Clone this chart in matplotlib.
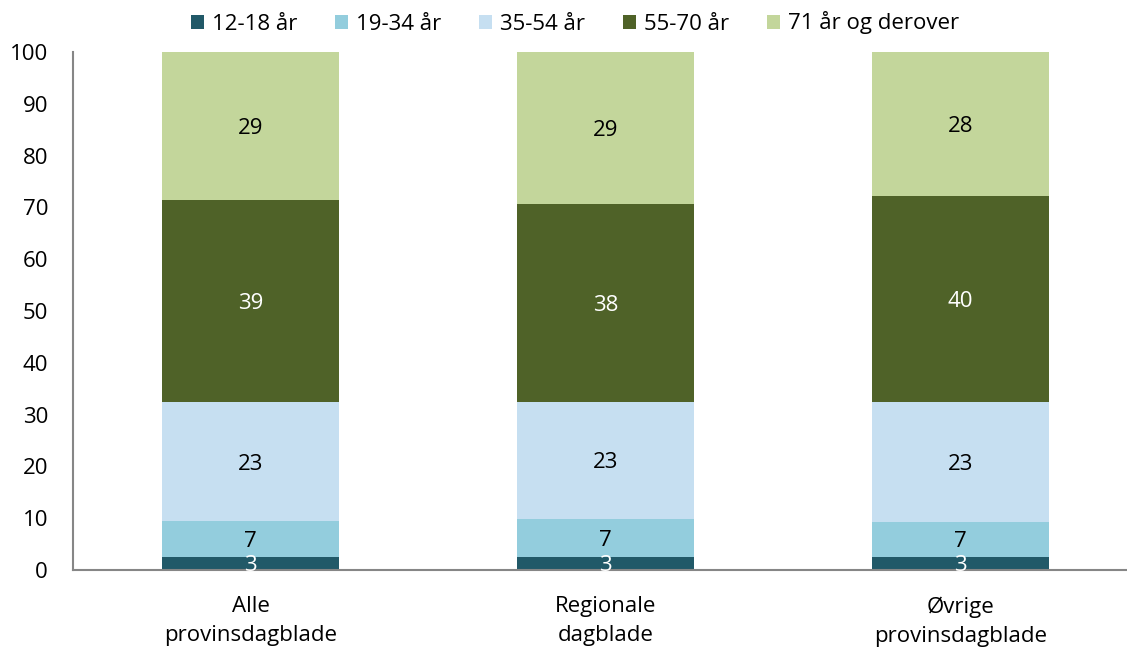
import matplotlib
matplotlib.use("Agg")
import matplotlib.pyplot as plt
import numpy as np

categories = ["Alle\nprovinsdagblade", "Regionale\ndagblade", "Øvrige\nprovinsdagblade"]
series_names = ["12-18 år", "19-34 år", "35-54 år", "55-70 år", "71 år og derover"]
v_12_18 = [2.6, 2.6, 2.6]
v_19_34 = [6.8, 7.3, 6.6]
v_35_54 = [23.0, 22.6, 23.3]
v_55_70 = [39.0, 38.1, 39.7]
v_71 = [28.6, 29.4, 27.8]
yticks = [0, 10, 20, 30, 40, 50, 60, 70, 80, 90, 100]

colors = ["#215968", "#93CDDD", "#C6DFF1", "#4F6228", "#C3D69B"]
label_colors = ["white", "black", "black", "white", "black"]

plt.rcParams['font.family'] = ['Open Sans', 'DejaVu Sans']

fig = plt.figure(figsize=(11.27, 6.51), dpi=100)
ax = fig.add_axes([73/1127, (651-570)/651, (1127-73)/1127, (570-52)/651])

series = [v_12_18, v_19_34, v_35_54, v_55_70, v_71]
x = np.arange(len(categories))
bottom = np.zeros(len(categories))
for name, vals, c, lc in zip(series_names, series, colors, label_colors):
    vals = np.array(vals)
    ax.bar(x, vals, width=0.5, bottom=bottom, color=c, label=name,
           edgecolor='none', linewidth=0)
    for xi, b, v in zip(x, bottom, vals):
        ax.text(xi, b + v / 2, f"{v:.0f}", ha='center', va='center_baseline',
                color=lc, fontsize=16)
    bottom += vals

ax.set_xlim(-0.5, (1127-73)/355 - 0.5)
ax.set_ylim(0, 100)
ax.set_yticks(yticks)
ax.set_xticks(x)
ax.set_xticklabels(categories, fontsize=16, linespacing=1.5)
ax.tick_params(axis='y', length=0, pad=18, labelsize=16)
ax.tick_params(axis='x', length=0, pad=19)
for s in ['top', 'right']:
    ax.spines[s].set_visible(False)
for s in ['left', 'bottom']:
    ax.spines[s].set_color('#868686')
    ax.spines[s].set_linewidth(1.5)

fig.legend(loc='center', bbox_to_anchor=(575/1127, 1 - 23/651), ncol=5,
           frameon=False, fontsize=16, handlelength=0.6, handleheight=0.6,
           handletextpad=0.35, columnspacing=1.7)

fig.savefig("out.png", dpi=100)
